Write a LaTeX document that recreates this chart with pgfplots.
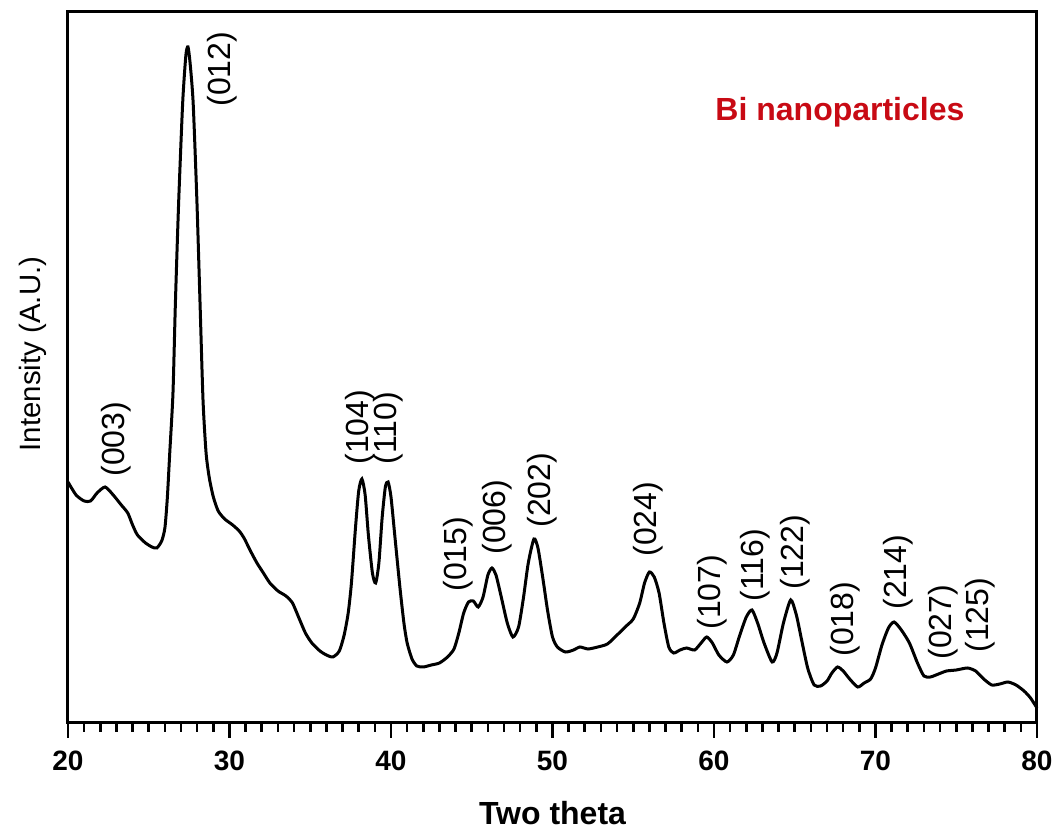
\documentclass[border=0pt]{standalone}
\usepackage{pgfplots}
\pgfplotsset{compat=1.18}
\usepackage{fontspec}
\setmainfont{Liberation Sans}
\definecolor{titlered}{RGB}{200,10,20}
\begin{document}
\begin{tikzpicture}
\begin{axis}[
  scale only axis,
  width=484.5pt, height=355.5pt,
  xmin=20, xmax=80, ymin=0, ymax=711,
  axis line style={line width=1.5pt},
  xtick={20,30,...,80},
  minor x tick num=9,
  xtick pos=bottom,
  tick align=outside,
  major tick length=7.5pt,
  minor tick length=4.5pt,
  every tick/.style={line width=1.3pt, black},
  ytick=\empty,
  /pgf/number format/assume math mode=true,
  xticklabel style={font=\bfseries\fontsize{14}{14}\selectfont, yshift=-3pt},
  clip=false,
]
\addplot[black, line width=1.5pt, smooth, tension=0.4] coordinates {
(20.0,241) (20.5,228) (21.0,222) (21.4,222) (21.8,230) (22.3,236) (22.8,228)
(23.3,218) (23.7,210) (24.0,198) (24.3,188) (24.8,180) (25.2,176) (25.5,175)
(25.8,182) (26.0,195) (26.15,225) (26.3,270) (26.5,330) (26.65,420) (26.85,520)
(27.1,620) (27.3,668) (27.43,676) (27.56,660) (27.75,620) (27.98,523) (28.17,423)
(28.36,323) (28.55,270) (28.75,245) (29.0,226) (29.3,212) (29.7,204) (30.2,198)
(30.6,192) (30.9,185) (31.3,172) (31.7,160) (32.1,150) (32.5,140) (33.0,132)
(33.5,127) (33.9,120) (34.3,105) (34.7,90) (35.1,80) (35.6,72) (36.0,68)
(36.4,66) (36.8,72) (37.1,88) (37.35,110) (37.55,140) (37.8,195) (38.0,232)
(38.2,244) (38.4,228) (38.6,188) (38.85,150) (39.05,140) (39.25,160) (39.45,205)
(39.65,236) (39.82,241) (40.0,226) (40.25,185) (40.55,136) (40.8,100) (41.0,80)
(41.3,64) (41.6,57) (42.0,56) (42.5,58) (43.0,60) (43.5,66) (43.9,74)
(44.2,90) (44.5,110) (44.8,121) (45.1,122) (45.4,116) (45.7,126) (46.0,148)
(46.25,155) (46.5,148) (46.8,128) (47.2,100) (47.55,86) (47.9,96) (48.2,125)
(48.5,160) (48.85,184) (49.1,175) (49.4,145) (49.7,112) (50.0,86) (50.3,76)
(50.8,71) (51.3,73) (51.7,76) (52.2,74) (52.8,76) (53.4,79) (54.0,88)
(54.5,96) (55.0,104) (55.4,120) (55.7,140) (56.0,151) (56.3,146) (56.6,130)
(56.9,100) (57.2,76) (57.5,70) (57.9,73) (58.3,75) (58.8,73) (59.2,80)
(59.55,86) (59.9,80) (60.3,68) (60.8,61) (61.2,68) (61.6,88) (62.0,106)
(62.35,113) (62.7,100) (63.1,80) (63.6,61) (63.9,70) (64.3,100) (64.75,123)
(65.1,108) (65.4,85) (65.8,55) (66.2,38) (66.6,37) (67.0,42) (67.3,50)
(67.65,56) (68.0,52) (68.4,44) (68.9,36) (69.3,40) (69.7,44) (70.0,55)
(70.4,78) (70.8,95) (71.15,101) (71.6,93) (72.1,80) (72.6,60) (73.0,47)
(73.4,46) (73.9,49) (74.4,52) (75.0,53) (75.7,55) (76.2,52) (76.7,44)
(77.2,38) (77.7,39) (78.2,41) (78.7,38) (79.2,32) (79.6,25) (80.0,15)
};
\begin{scope}[every node/.style={rotate=90, anchor=west, inner sep=0pt, font=\fontsize{16}{16}\selectfont}]
\node at (axis cs:22.97,246) {(003)};
\node at (axis cs:29.54,616) {(012)};
\node at (axis cs:38.08,258) {(104)};
\node at (axis cs:39.81,258) {(110)};
\node at (axis cs:44.15,131) {(015)};
\node at (axis cs:46.6,168) {(006)};
\node at (axis cs:49.35,195) {(202)};
\node at (axis cs:55.9,166) {(024)};
\node at (axis cs:59.88,93) {(107)};
\node at (axis cs:62.54,121) {(116)};
\node at (axis cs:65.0,133) {(122)};
\node at (axis cs:68.1,66) {(018)};
\node at (axis cs:71.4,113) {(214)};
\node at (axis cs:74.2,63) {(027)};
\node at (axis cs:76.5,70) {(125)};
\end{scope}
\node[text=titlered, font=\bfseries\fontsize{16}{16}\selectfont] at (axis cs:67.8,611) {Bi nanoparticles};
\node[rotate=90, font=\fontsize{14.7}{14.7}\selectfont] at (rel axis cs:0,0.519) [yshift=17.5pt] {Intensity (A.U.)};
\node[font=\bfseries\fontsize{16}{16}\selectfont] at (rel axis cs:0.5,0) [yshift=-45pt] {Two theta};
\end{axis}
\pgfresetboundingbox
\path[use as bounding box] (-34pt,-53.5pt) rectangle (494.5pt,361.5pt);
\end{tikzpicture}
\end{document}
